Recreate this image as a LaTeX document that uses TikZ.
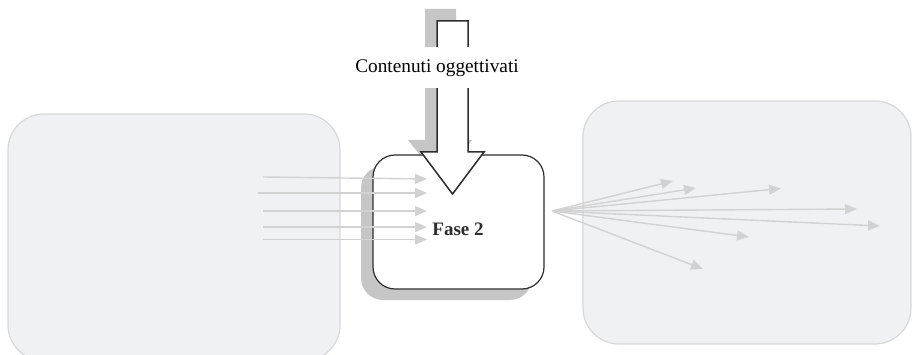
\documentclass[tikz,border=0pt]{standalone}
\usepackage{fontspec}
\setmainfont{Liberation Serif}
\usetikzlibrary{arrows.meta}
\definecolor{boxfill}{HTML}{F0F1F3}
\definecolor{boxline}{HTML}{D8D8D8}
\definecolor{arrgray}{HTML}{D2D2D2}
\definecolor{shadowgray}{HTML}{C6C6C6}
\definecolor{ink}{HTML}{2E2E2E}
\tikzset{
  bigbox/.style={draw=boxline, line width=1.2pt, fill=boxfill, rounded corners=36pt, inner sep=0pt},
  phasebox/.style={draw=ink, line width=1.2pt, fill=white, rounded corners=22pt, inner sep=0pt, minimum width=171pt, minimum height=134pt},
  shadowbox/.style={fill=shadowgray, rounded corners=22pt, inner sep=0pt, minimum width=171pt, minimum height=134pt},
  flow/.style={draw=arrgray, line width=1.4pt, -{Triangle[length=12pt,width=10pt]}},
}
\begin{document}
\begin{tikzpicture}[x=1pt,y=-1pt]
\useasboundingbox (0,0) rectangle (912,355);
\clip (0,0) rectangle (912,355);
% big side boxes
\node[bigbox, minimum width=332pt, minimum height=247pt] (left) at (174,237.5) {};
\node[bigbox, minimum width=328pt, minimum height=243pt] (right) at (747,222.5) {};
% arrow shadow
\fill[shadowgray] (425,9) -- (456,9) -- (456,140) -- (472,140) -- (441,182) -- (408,140) -- (425,140) -- cycle;
% phase box with shadow
\node[shadowbox] (shadow) at (446.5,233) {};
\node[phasebox] (fase) at (458.5,222) {};
% incoming arrows
\coordinate (i1) at (263,177); \coordinate (o1) at (427,179);
\coordinate (i2) at (258,193); \coordinate (o2) at (427,193);
\coordinate (i3) at (263,211); \coordinate (o3) at (427,211);
\coordinate (i4) at (263,227); \coordinate (o4) at (427,227);
\coordinate (i5) at (263,239.5); \coordinate (o5) at (427,239.5);
\foreach \k in {1,...,5} \draw[flow] (i\k) -- (o\k);
% outgoing arrows
\coordinate (src) at (552,211);
\coordinate (t1) at (673,181);
\coordinate (t2) at (696,188);
\coordinate (t3) at (781,188.5);
\coordinate (t4) at (857,209);
\coordinate (t5) at (880,226);
\coordinate (t6) at (749,237);
\coordinate (t7) at (703,269);
\foreach \k in {1,...,7} \draw[flow] (src) -- (t\k);
% big arrow
\draw[ink, line width=1.5pt, fill=white, line join=miter] (437,21) -- (468,21) -- (468,152) -- (484,152) -- (452.5,194) -- (421,152) -- (437,152) -- cycle;
\node[fill=white, inner sep=0pt, minimum height=41pt, font=\fontsize{19.3}{22}\selectfont] (cont) at (437,68) {Contenuti oggettivati};
\node[font=\bfseries\fontsize{19}{22}\selectfont, text=ink] (f2) at (458,229) {Fase 2};
\end{tikzpicture}
\end{document}
